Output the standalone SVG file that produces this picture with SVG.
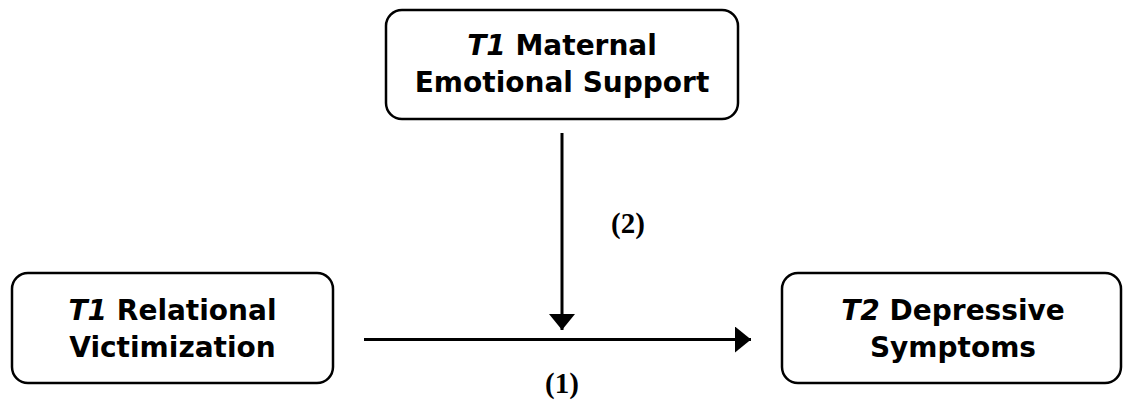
<svg xmlns="http://www.w3.org/2000/svg" width="1123" height="402" viewBox="0 0 1123 402">
<style>
.box{fill:#fff;stroke:#000;stroke-width:2.5}
.lbl{font-family:"DejaVu Sans",sans-serif;font-weight:bold;font-size:28px;fill:#000;text-anchor:middle}
.it{font-style:italic}
.num{font-family:"Liberation Serif",serif;font-weight:bold;font-size:29px;fill:#000;text-anchor:middle}
.ln{stroke:#000;stroke-width:3;fill:none}
</style>
<defs>
<marker id="ah" viewBox="0 0 16 26" refX="16" refY="13" markerWidth="16" markerHeight="26" markerUnits="userSpaceOnUse" orient="auto">
<path d="M0,0 L16,13 L0,26 Z" fill="#000"/>
</marker>
</defs>
<g id="node-maternal">
<rect class="box" x="386" y="10" width="352" height="109" rx="16"/>
<text class="lbl" x="562" y="55"><tspan class="it">T1</tspan> Maternal</text>
<text class="lbl" x="562" y="92">Emotional Support</text>
</g>
<g id="node-victimization">
<rect class="box" x="12" y="273" width="321" height="110" rx="16"/>
<text class="lbl" x="172.5" y="320"><tspan class="it">T1</tspan> Relational</text>
<text class="lbl" x="172.5" y="357">Victimization</text>
</g>
<g id="node-depressive">
<rect class="box" x="782" y="273" width="339" height="110" rx="16"/>
<text class="lbl" x="953" y="320"><tspan class="it">T2</tspan> Depressive</text>
<text class="lbl" x="953" y="357">Symptoms</text>
</g>
<g id="connectors">
<line class="ln" x1="364" y1="339.5" x2="751" y2="339.5" marker-end="url(#ah)"/>
<line class="ln" x1="562" y1="133" x2="562" y2="330" marker-end="url(#ah)"/>
<text class="num" x="628" y="233">(2)</text>
<text class="num" x="562" y="393">(1)</text>
</g>
</svg>
